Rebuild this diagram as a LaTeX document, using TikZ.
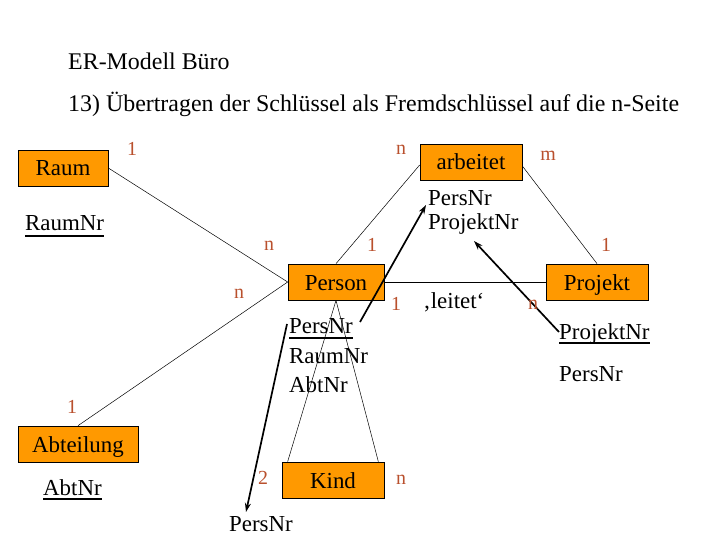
\documentclass[tikz,border=0pt]{standalone}
\usepackage{fontspec}
\setmainfont{Liberation Serif}
\usetikzlibrary{arrows.meta}
\definecolor{boxorange}{RGB}{255,153,0}
\definecolor{cardcol}{RGB}{185,80,45}
\begin{document}
\begin{tikzpicture}[x=1bp,y=-1bp,
  entity/.style={draw=black,fill=boxorange,line width=0.7pt,minimum height=36bp,inner sep=0pt,text height=16bp,text depth=0bp,font=\fontsize{23}{26}\selectfont},
  attr/.style={anchor=base west,inner sep=0pt,font=\fontsize{23}{26}\selectfont},
  titletext/.style={anchor=base west,inner sep=0pt,font=\fontsize{24}{28}\selectfont},
  card/.style={inner sep=0pt,text=cardcol,font=\fontsize{20}{22}\selectfont},
  rel/.style={draw=black,line width=0.5pt},
  keyline/.style={line width=2pt},
  fk/.style={line width=1.7pt,-{Stealth[length=9bp,width=6bp]}}]
\useasboundingbox (0,0) rectangle (720,540);

% titles
\node[titletext] (t1) at (68,70) {ER-Modell Büro};
\node[titletext] (t2) at (68,112) {13) Übertragen der Schlüssel als Fremdschlüssel auf die n-Seite};

% entities
\node[entity,minimum width=90bp] (raum) at (63,168) {Raum};
\node[entity,minimum width=102bp] (arb) at (471,162) {arbeitet};
\node[entity,minimum width=96bp] (person) at (336,282) {Person};
\node[entity,minimum width=102bp] (projekt) at (597,282) {Projekt};
\node[entity,minimum width=120bp] (abt) at (78,444) {Abteilung};
\node[entity,minimum width=102bp] (kind) at (333,480) {Kind};

% relationship lines
\draw[rel] (raum.east) -- (person.west);
\draw[rel] (person.west) -- (abt.north);
\draw[rel] (person.north) -- ([yshift=-3bp]arb.west);
\draw[rel] ([yshift=-4bp]arb.east) -- (projekt.north);
\draw[rel] (person.east) -- (projekt.west);
\draw[rel] (person.south) -- ([xshift=6bp]kind.north west);
\draw[rel] (person.south) -- ([xshift=-6bp]kind.north east);

% attributes
\node[attr] (raumnr) at (25,231) {RaumNr};
\node[attr] (arbpers) at (428,206) {PersNr};
\node[attr] (arbproj) at (428,230) {ProjektNr};
\node[attr] (leitet) at (423,308) {‚leitet‘};
\node[attr] (ppers) at (289,333) {PersNr};
\node[attr] (praum) at (289,363) {RaumNr};
\node[attr] (pabt) at (289,392) {AbtNr};
\node[attr] (projnr) at (559,339) {ProjektNr};
\node[attr] (projpers) at (559,381) {PersNr};
\node[attr] (abtnr) at (43,495) {AbtNr};
\node[attr] (kpers) at (229,531) {PersNr};

% key underlines
\draw[keyline] ([yshift=-5bp]raumnr.base west) -- ([yshift=-5bp]raumnr.base east);
\draw[keyline] ([yshift=-5bp]ppers.base west) -- ([yshift=-5bp]ppers.base east);
\draw[keyline] ([yshift=-4bp]projnr.base west) -- ([yshift=-4bp]projnr.base east);
\draw[keyline] ([yshift=-4bp]abtnr.base west) -- ([yshift=-4bp]abtnr.base east);

% foreign key arrows
\coordinate (f1s) at (360,322);
\coordinate (f1e) at (426,205);
\coordinate (f2s) at (559,332);
\coordinate (f2e) at (474,241);
\coordinate (f3s) at (287,324);
\coordinate (f3e) at (246,512);
\draw[fk] (f1s) -- (f1e);
\draw[fk] (f2s) -- (f2e);
\draw[fk] (f3s) -- (f3e);

% cardinalities
\node[card] (c1) at (132,149) {1};
\node[card] (c2) at (401,150) {n};
\node[card] (c3) at (548,156) {m};
\node[card] (c4) at (269,246) {n};
\node[card] (c5) at (372,245) {1};
\node[card] (c6) at (606,245) {1};
\node[card] (c7) at (239,294) {n};
\node[card] (c8) at (396,304) {1};
\node[card] (c9) at (533,305) {n};
\node[card] (c10) at (72,407) {1};
\node[card] (c11) at (263,478) {2};
\node[card] (c12) at (401,480) {n};
\end{tikzpicture}
\end{document}
